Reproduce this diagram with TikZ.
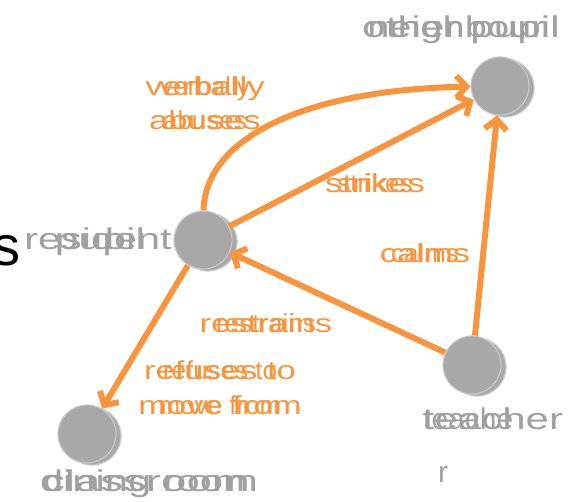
\documentclass[tikz,border=0pt]{standalone}
\usepackage{fontspec}
\setmainfont{Liberation Sans}
\usepackage{graphicx}
\usetikzlibrary{arrows.meta, shadows}

\definecolor{arroworange}{RGB}{247,148,62}
\definecolor{nodegray}{RGB}{168,168,168}
\definecolor{rimgray}{RGB}{200,200,200}
\definecolor{textgray}{RGB}{160,160,160}

\newcommand{\twin}[1]{\makebox[0pt]{#1}\makebox[0pt]{\scalebox{1.33}[1]{#1}}}
\newcommand{\wide}[2]{\scalebox{#1}[1]{#2}}

\begin{document}
\begin{tikzpicture}[x=1pt,y=-1pt]

\tikzstyle{agent} = [circle, minimum size=58pt, inner sep=0pt, fill=nodegray, draw=rimgray, line width=1.2pt, copy shadow={shadow xshift=5pt, shadow yshift=-2pt, fill=nodegray, draw=rimgray}]
\tikzstyle{nametext} = [text=textgray, font=\fontsize{30}{36}\selectfont, inner sep=0pt, anchor=base]
\tikzstyle{edgetext} = [text=arroworange, font=\fontsize{26}{34}\selectfont, align=center, inner sep=0pt, anchor=base]
\tikzstyle{arrow} = [line width=6pt, arroworange, -{Straight Barb[length=10pt,width=22pt]}]

\useasboundingbox (0,0) rectangle (568,502);

\node (res) [agent] at (203,240) {};
\node (oth) [agent] at (500,86) {};
\node (cls) [agent] at (87,434) {};
\node (tch) [agent] at (472,365) {};

\node (reslabA) [nametext] at (98,250) {\wide{1.38}{resident}};
\node (reslabB) [nametext] at (100,250) {\wide{1.42}{pupil}};
\node (othlabA) [nametext] at (461,38) {\wide{1.41}{other pupil}};
\node (othlabB) [nametext] at (456,38) {\wide{1.33}{neighbour}};
\node (clslabA) [nametext] at (149,492) {\wide{1.39}{dining room}};
\node (clslabB) [nametext] at (146,492) {\wide{1.52}{classroom}};
\node (tchlabA) [nametext] at (493,430) {\wide{1.4}{teacher}};
\node (tchlabB) [nametext, anchor=base west, align=left, font=\fontsize{30}{53}\selectfont] at (423,483) {teache\\\hspace*{15pt}r};

\node (frag) [anchor=base, font=\fontsize{56}{60}\selectfont, inner sep=0pt] at (6,266) {s};

\draw [arrow] (res) .. controls (205,140) and (300,90) .. (oth);
\draw [arrow] (res) -- (oth);
\draw [arrow] (tch) -- (oth);
\draw [arrow] (tch) -- (res);
\draw [arrow] (res) -- (cls);

\node (abuse) [edgetext] at (205,130) {\twin{verbally}\\\twin{abuses}};
\node (strike) [edgetext] at (375,193) {\twin{strikes}};
\node (calm) [edgetext] at (425,263) {\twin{calms}};
\node (restrain) [edgetext] at (266,333) {\twin{restrains}};
\node (refuse) [edgetext, font=\fontsize{26}{35}\selectfont] at (220,415) {\twin{refuses to}\\\twin{move from}};

\end{tikzpicture}
\end{document}
